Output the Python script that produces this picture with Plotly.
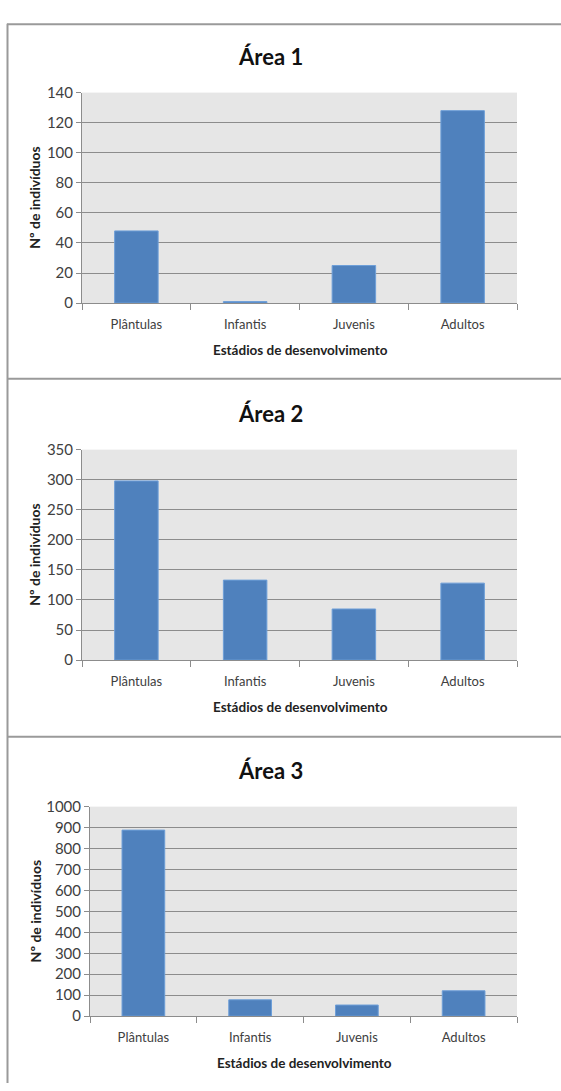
import plotly.graph_objects as go

W, H = 561, 1091

# Development stages and counts per area
estadios = ["Plântulas", "Infantis", "Juvenis", "Adultos"]
area1 = [48, 1, 25, 128]
area2 = [298, 133, 85, 128]
area3 = [888, 78, 53, 121]

titulos = ["Área 1", "Área 2", "Área 3"]
y_max = [140, 350, 1000]
y_step = [20, 50, 100]

# Plot-area boxes in pixels: (left, right, top, bottom), plus title y
boxes = [
    (82, 517, 84, 298, 47),
    (82, 517, 447, 661, 410),
    (90, 517, 810, 1023, 773),
]

def px(x):
    return x / W

def py(y):
    return 1 - y / H

BAR = "#4F81BD"
GRID = "#8c8c8c"
FONT = "Lato"

fig = go.Figure()
series = [area1, area2, area3]

for i, (vals, (l, r, t, b, ty)) in enumerate(zip(series, boxes)):
    n = "" if i == 0 else str(i + 1)
    fig.add_trace(go.Bar(
        x=estadios, y=vals, xaxis="x" + n, yaxis="y" + n,
        width=0.4,
        marker=dict(color=BAR, line=dict(color="#6e9fd8", width=1)),
        showlegend=False, hoverinfo="x+y",
    ))
    fig.layout["xaxis" + n] = dict(
        domain=[px(l), px(r)], anchor="y" + n,
        showline=True, linecolor=GRID, linewidth=1,
        ticks="outside", tickson="boundaries", ticklen=6, tickcolor=GRID,
        ticklabelstandoff=9,
        tickfont=dict(family=FONT, size=13, color="#404040"),
        showgrid=False, fixedrange=True,
    )
    fig.layout["yaxis" + n] = dict(
        domain=[py(b), py(t)], anchor="x" + n,
        range=[0, y_max[i]], dtick=y_step[i], tick0=0,
        showline=True, linecolor=GRID, linewidth=1,
        ticks="outside", ticklen=5, tickcolor=GRID,
        showgrid=True, gridcolor=GRID, gridwidth=1,
        zeroline=False,
        tickfont=dict(family=FONT, size=15, color="#404040"),
        fixedrange=True,
    )
    # Chart title
    fig.add_annotation(
        text="<b>" + titulos[i] + "</b>", x=px(270), y=py(ty),
        xref="paper", yref="paper", showarrow=False,
        font=dict(family=FONT, size=22, color="#111111"),
        xanchor="center", yanchor="middle",
    )
    # X-axis title
    fig.add_annotation(
        text="<b>Estádios de desenvolvimento</b>",
        x=px((l + r) / 2 + 1), y=py(b + 48),
        xref="paper", yref="paper", showarrow=False,
        font=dict(family=FONT, size=13.5, color="#222222"),
        xanchor="center", yanchor="middle",
    )
    # Y-axis title
    fig.add_annotation(
        text="<b>Nº de indivíduos</b>",
        x=px(35), y=py((t + b) / 2),
        xref="paper", yref="paper", showarrow=False, textangle=-90,
        font=dict(family=FONT, size=14, color="#222222"),
        xanchor="center", yanchor="middle",
    )

# Frame lines around the panels
BORDER = "#9a9a9a"
shapes = [
    dict(type="line", xref="paper", yref="paper",
         x0=px(7.5), x1=px(7.5), y0=py(14), y1=0,
         line=dict(color=BORDER, width=2)),
]
for yb in (14.5, 375, 739):
    shapes.append(dict(type="line", xref="paper", yref="paper",
                       x0=px(7), x1=1, y0=py(yb), y1=py(yb),
                       line=dict(color=BORDER, width=2)))

fig.update_layout(
    width=W, height=H,
    margin=dict(l=0, r=0, t=0, b=0),
    paper_bgcolor="white", plot_bgcolor="#e6e6e6",
    shapes=shapes, bargap=0.6,
)

fig.write_html("out.html", config={"displayModeBar": False})
